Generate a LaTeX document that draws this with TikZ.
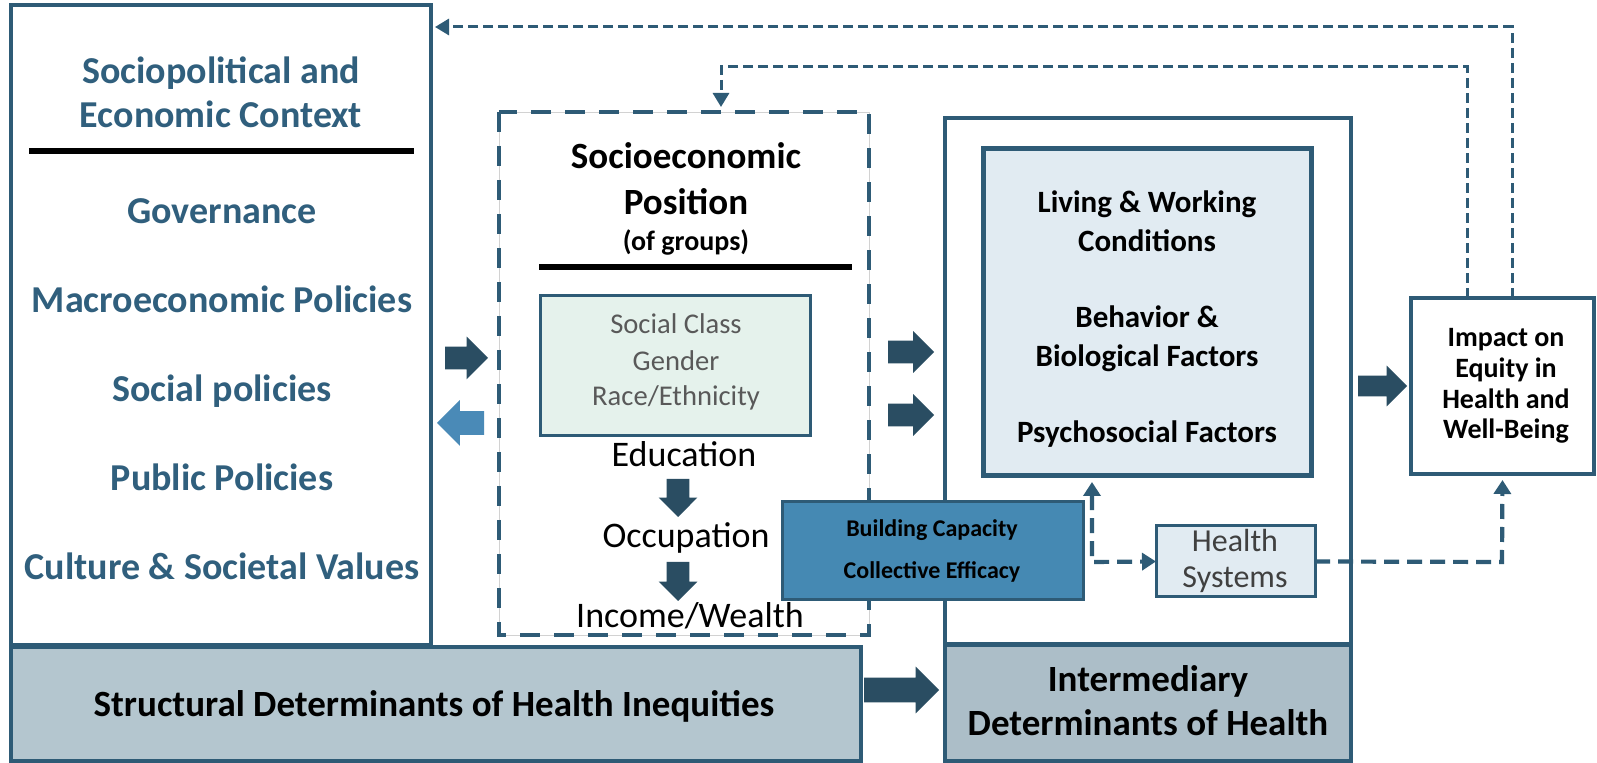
\documentclass[tikz,border=0pt]{standalone}
\usepackage{fontspec}
\setmainfont{Carlito}
\usetikzlibrary{fit,shapes.arrows,arrows.meta}
\definecolor{strokec}{HTML}{2E5B76}
\definecolor{darkarrow}{HTML}{2A4D62}
\definecolor{lightarrow}{HTML}{4A8AB7}
\definecolor{lefttext}{HTML}{305F7D}
\definecolor{greenfill}{HTML}{E5F2EC}
\definecolor{livefill}{HTML}{E1EBF2}
\definecolor{buildfill}{HTML}{4589B3}
\definecolor{structfill}{HTML}{B4C6CF}
\definecolor{interfill}{HTML}{ACBEC8}
\definecolor{graytext}{HTML}{595959}
\definecolor{dkgraytext}{HTML}{404040}
\tikzset{
  box/.style={draw=strokec, line width=2pt, inner sep=0pt, outer sep=0pt},
  blackrule/.style={draw=black, line width=3pt},
  sepdash/.style={draw=strokec, line width=2.25pt, dash pattern=on 10pt off 7pt},
  tipA/.tip={Triangle[length=7pt,width=8.5pt]},
  tipB/.tip={Triangle[length=7pt,width=8pt]},
  topdash/.style={draw=strokec, line width=1.5pt, dash pattern=on 5pt off 2.5pt, -tipB},
  lowdash/.style={draw=strokec, line width=2.1pt, dash pattern=on 7.5pt off 4pt},
  blockarrow/.style={single arrow, draw=none, inner xsep=0pt, outer sep=0pt, anchor=tail},
  lt/.style={anchor=base, inner sep=0pt, font=\fontsize{19}{22}\selectfont\bfseries, text=lefttext},
  st/.style={anchor=base, inner sep=0pt, font=\fontsize{18.5}{22}\selectfont\bfseries},
  sgroups/.style={anchor=base, inner sep=0pt, font=\fontsize{14}{16}\selectfont\bfseries},
  gt/.style={anchor=base, inner sep=0pt, font=\fontsize{14.3}{16}\selectfont, text=graytext},
  et/.style={anchor=base, inner sep=0pt, font=\fontsize{18}{22}\selectfont},
  lvt/.style={anchor=base, inner sep=0pt, font=\fontsize{15.5}{18}\selectfont\bfseries},
  imt/.style={anchor=base, inner sep=0pt, font=\fontsize{14}{16}\selectfont\bfseries},
  hst/.style={anchor=base, inner sep=0pt, font=\fontsize{16}{18}\selectfont, text=dkgraytext},
  bct/.style={anchor=base, inner sep=0pt, font=\fontsize{12}{14}\selectfont\bfseries},
  bigt/.style={anchor=base, inner sep=0pt, font=\fontsize{18.5}{22}\selectfont\bfseries},
}
\begin{document}
\begin{tikzpicture}[x=0.5pt,y=-0.5pt]
\fill[white] (0,0) rectangle (1597,763);
\useasboundingbox (0,0) rectangle (1597,763);

% ---------- left context box
\node[box, fill=white, fit={(11,5)(431,645)}] (left) {};
\node[lt] (ctx1) at (221,84) {Sociopolitical and};
\node[lt] (ctx2) at (221,128) {Economic Context};
\draw[blackrule] (29,151) -- (414,151);
\node[lt] (gov) at (222,224) {Governance};
\node[lt] (macro) at (222,313) {Macroeconomic Policies};
\node[lt] (socpol) at (222,402) {Social policies};
\node[lt] (pubpol) at (222,491) {Public Policies};
\node[lt] (cult) at (222,580) {Culture \& Societal Values};

% ---------- socioeconomic position box
\node[draw=gray!35, line width=0.4pt, inner sep=0pt, outer sep=0pt, fit={(499,112)(869,635)}] (sep) {};
\draw[sepdash] (sep.north west) rectangle (sep.south east);
\node[st] (sep1) at (686,169) {Socioeconomic};
\node[st] (sep2) at (686,215) {Position};
\node[sgroups] (sep3) at (686,251) {(of groups)};
\draw[blackrule] (539,267) -- (852,267);
\node[box, fill=greenfill, line width=1.5pt, fit={(540,296)(810,436)}] (green) {};
\node[gt] (g1) at (676,334) {Social Class};
\node[gt] (g2) at (676,371) {Gender};
\node[gt] (g3) at (676,406) {Race/Ethnicity};
\node[et] (edu) at (684,467) {Education};
\node[et] (occ) at (686,548) {Occupation};
\node[et] (inc) at (690,628) {Income/Wealth};
\node[blockarrow, fill=darkarrow, rotate=-90, minimum height=19pt, inner ysep=5.5pt, single arrow head extend=4pt] (da1) at (678,479) {};
\node[blockarrow, fill=darkarrow, rotate=-90, minimum height=19.5pt, inner ysep=5.5pt, single arrow head extend=4pt] (da2) at (678,562) {};

% ---------- intermediary outer box
\node[box, fill=white, fit={(945,118)(1351,644)}] (outer) {};
\node[box, fill=livefill, line width=2.5pt, fit={(983,149)(1311,476)}] (living) {};
\node[lvt] (lv1) at (1147,213) {Living \& Working};
\node[lvt] (lv2) at (1147,252) {Conditions};
\node[lvt] (lv3) at (1147,328) {Behavior \&};
\node[lvt] (lv4) at (1147,367) {Biological Factors};
\node[lvt] (lv5) at (1147,443) {Psychosocial Factors};

\node[box, fill=livefill, line width=1.5pt, fit={(1156,526)(1315,597)}] (hs) {};
\node[hst] (hs1) at (1235,552) {Health};
\node[hst] (hs2) at (1235,588) {Systems};

\node[box, fill=buildfill, line width=1.5pt, fit={(782,502)(1083,600)}] (build) {};
\node[bct] (bc1) at (932,537) {Building Capacity};
\node[bct] (bc2) at (932,579) {Collective Efficacy};

% ---------- impact box
\node[box, fill=white, fit={(1411,298)(1594,474)}] (impact) {};
\node[imt] (im1) at (1506,347) {Impact on};
\node[imt] (im2) at (1506,378) {Equity in};
\node[imt] (im3) at (1506,409) {Health and};
\node[imt] (im4) at (1506,439) {Well-Being};

% ---------- bottom boxes
\node[box, fill=structfill, fit={(11,647)(861,761)}] (struct) {};
\node[bigt] (structtxt) at (434,717) {Structural Determinants of Health Inequities};
\node[box, fill=interfill, fit={(945,645)(1351,761)}] (inter) {};
\node[bigt] (inter1) at (1148,692) {Intermediary};
\node[bigt] (inter2) at (1148,736) {Determinants of Health};

% ---------- block arrows
\node[blockarrow, fill=darkarrow, minimum height=21.5pt, inner ysep=5.5pt, single arrow head extend=5pt] (ba1) at (445,358) {};
\node[blockarrow, fill=lightarrow, rotate=180, minimum height=23.5pt, inner ysep=5.75pt, single arrow head extend=5.5pt] (ba2) at (484,423) {};
\node[blockarrow, fill=darkarrow, minimum height=23pt, inner ysep=5.5pt, single arrow head extend=4.75pt] (ba3) at (888,352) {};
\node[blockarrow, fill=darkarrow, minimum height=23pt, inner ysep=5.5pt, single arrow head extend=4.75pt] (ba4) at (888,415) {};
\node[blockarrow, fill=darkarrow, minimum height=24.5pt, inner ysep=5pt, single arrow head extend=5pt] (ba5) at (1358,386) {};
\node[blockarrow, fill=darkarrow, minimum height=37.5pt, inner ysep=6pt, single arrow head extend=5.5pt] (ba6) at (864,690) {};

% ---------- dashed connectors
\coordinate (c1) at (1092,562);
\coordinate (c2) at (1502,562);
\draw[lowdash, tipA-tipA, shorten <=3pt] (c1 |- living.south) -- (c1) -- (hs.west);
\draw[lowdash, -tipA, shorten >=3pt] (hs.east) -- (c2) -- (impact.south);

\coordinate (t1) at (1512,27);
\coordinate (t2) at (1467,67);
\coordinate (t3) at (721,67);
\draw[topdash, shorten >=2pt] (impact.north -| t1) -- (t1) -- (t1 -| left.east);
\draw[topdash, shorten >=2.5pt] (impact.north -| t2) -- (t2) -- (t3) -- (t3 |- sep.north);
\end{tikzpicture}
\end{document}
